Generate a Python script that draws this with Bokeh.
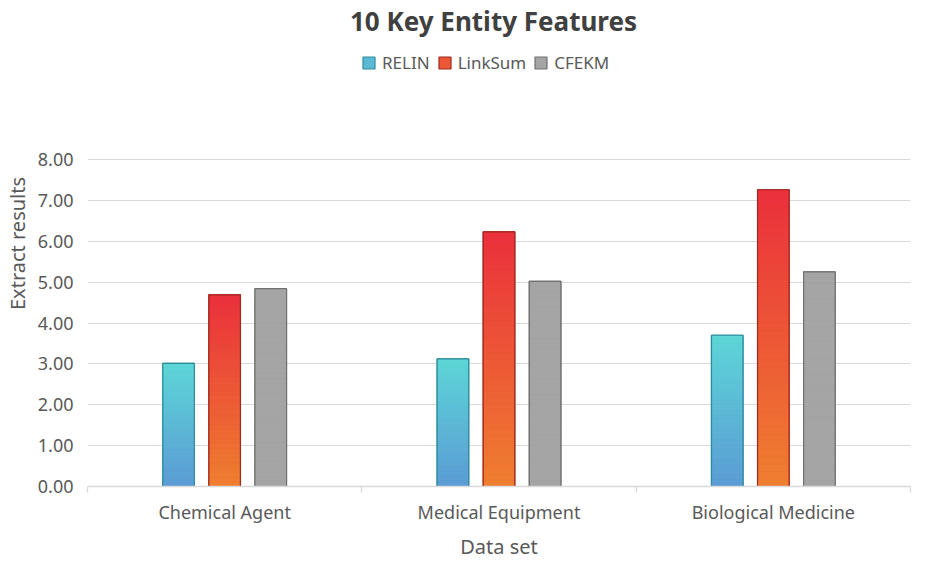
import numpy as np
from bokeh.plotting import figure
from bokeh.models import FixedTicker, NumeralTickFormatter, Legend, LegendItem, Label
from bokeh.embed import file_html
from bokeh.resources import INLINE

# ---- data ----
categories = ["Chemical Agent", "Medical Equipment", "Biological Medicine"]
series = ["RELIN", "LinkSum", "CFEKM"]
relin = [3.01, 3.12, 3.70]
linksum = [4.69, 6.23, 7.26]
cfekm = [4.84, 5.02, 5.25]
y_tick_values = [0, 1, 2, 3, 4, 5, 6, 7, 8]

values = {"RELIN": relin, "LinkSum": linksum, "CFEKM": cfekm}
grad = {"RELIN": ("#5B9BD5", "#5DD6D6"),
        "LinkSum": ("#EF7F30", "#EA303C"),
        "CFEKM": ("#A5A5A5", "#A5A5A5")}
outline = {"RELIN": "#2F8C9C", "LinkSum": "#9E2A22", "CFEKM": "#717171"}
swatch = {"RELIN": "#5CB9D6", "LinkSum": "#EC5836", "CFEKM": "#A5A5A5"}

TXT = "#595959"
FONT = "Noto Sans"

W, H = 916, 562
ML, MR, MB = 86, 6, 76
FH = H - MB            # frame height (frame reaches the top of the figure)
FW = W - ML - MR
PLOT_TOP = 159         # pixel row of the 8.00 gridline
y_top = 8 * FH / (FH - PLOT_TOP)

p = figure(width=W, height=H, x_range=(0, len(categories)), y_range=(0, y_top),
           output_backend="svg", toolbar_location=None,
           min_border_left=ML, min_border_right=MR, min_border_top=0, min_border_bottom=MB)
p.background_fill_color = "white"
p.border_fill_color = "white"
p.outline_line_color = None
p.title = None

def hexrgb(h):
    h = h.lstrip("#")
    return np.array([int(h[i:i + 2], 16) for i in (0, 2, 4)], dtype=float)

def mix(c0, c1, t):
    c = hexrgb(c0) * (1 - t) + hexrgb(c1) * t
    return "#%02x%02x%02x" % tuple(int(round(v)) for v in c)

N = 40
spacing = 0.168
bar_w = 0.115
legend_items = []
for j, s in enumerate(series):
    offs = (j - 1) * spacing
    xs = [i + 0.5 + offs for i in range(len(categories))]
    base = p.vbar(x=xs, bottom=0, top=values[s], width=bar_w, fill_color=swatch[s],
                  line_color=outline[s], line_width=1.2)
    sx, sb, st, sc = [], [], [], []
    for x, v in zip(xs, values[s]):
        for k in range(N):
            sx.append(x)
            sb.append(v * k / N)
            st.append(v * (k + 1) / N)
            sc.append(mix(grad[s][0], grad[s][1], (k + 0.5) / N))
    p.vbar(x=sx, bottom=sb, top=st, width=bar_w, fill_color=sc, line_color=sc, line_width=0.6)
    p.vbar(x=xs, bottom=0, top=values[s], width=bar_w, fill_color=None,
           line_color=outline[s], line_width=1.2)
    legend_items.append(LegendItem(label=s, renderers=[base]))

# axes
p.yaxis.ticker = FixedTicker(ticks=y_tick_values)
p.yaxis.formatter = NumeralTickFormatter(format="0.00")
p.yaxis.axis_line_color = None
p.yaxis.major_tick_line_color = None
p.yaxis.major_tick_out = 0
p.yaxis.minor_tick_line_color = None
p.yaxis.major_label_text_font = FONT
p.yaxis.major_label_text_font_size = "18px"
p.yaxis.major_label_text_color = TXT
p.yaxis.major_label_standoff = 14
p.yaxis.axis_label = "Extract results"
p.yaxis.axis_label_text_font = FONT
p.yaxis.axis_label_text_font_size = "20px"
p.yaxis.axis_label_text_font_style = "normal"
p.yaxis.axis_label_text_color = TXT
p.yaxis.axis_label_standoff = 4

p.xaxis.ticker = FixedTicker(ticks=[i + 0.5 for i in range(len(categories))],
                             minor_ticks=list(range(len(categories) + 1)))
p.xaxis.major_label_overrides = {i + 0.5: c for i, c in enumerate(categories)}
p.xaxis.axis_line_color = "#D9D9D9"
p.xaxis.axis_line_width = 1.3
p.xaxis.major_tick_line_color = None
p.xaxis.major_tick_out = 0
p.xaxis.minor_tick_line_color = "#D9D9D9"
p.xaxis.minor_tick_line_width = 1.3
p.xaxis.minor_tick_out = 6
p.xaxis.minor_tick_in = 0
p.xaxis.major_label_text_font = FONT
p.xaxis.major_label_text_font_size = "18px"
p.xaxis.major_label_text_color = TXT
p.xaxis.major_label_standoff = 7
p.xaxis.axis_label = "Data set"
p.xaxis.axis_label_text_font = FONT
p.xaxis.axis_label_text_font_size = "20px"
p.xaxis.axis_label_text_font_style = "normal"
p.xaxis.axis_label_text_color = TXT
p.xaxis.axis_label_standoff = 6

p.xgrid.grid_line_color = None
p.ygrid.grid_line_color = "#D9D9D9"
p.ygrid.grid_line_width = 1.2
p.ygrid.ticker = FixedTicker(ticks=y_tick_values)

legend = Legend(items=legend_items, orientation="horizontal", location=(274, FH - 66 - 8),
                glyph_width=15, glyph_height=15, label_text_font=FONT,
                label_text_font_size="17px", label_text_color=TXT,
                border_line_color=None, background_fill_alpha=0, spacing=7,
                label_standoff=6, padding=0, margin=0, label_height=15)
p.add_layout(legend, "center")

title = Label(x=406, y=FH - 20, x_units="screen", y_units="screen",
              text="10 Key Entity Features", text_align="center", text_baseline="middle",
              text_font=FONT, text_font_size="26px", text_font_style="bold", text_color="#404040")
p.add_layout(title)

open("out.html", "w").write(file_html(p, INLINE))
